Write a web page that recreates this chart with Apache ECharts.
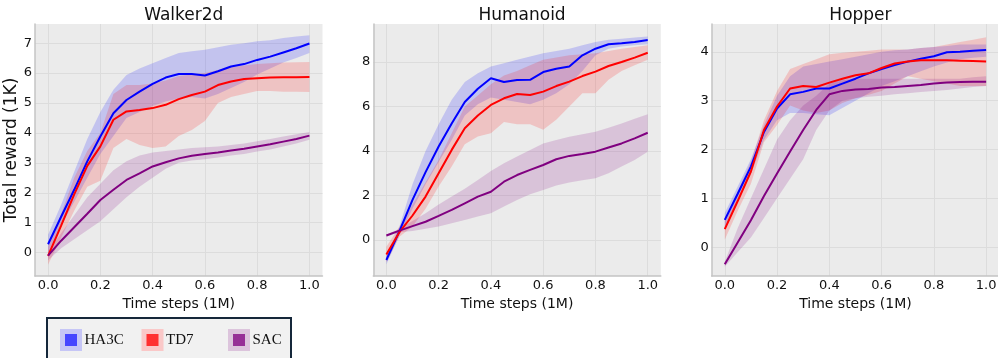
<!DOCTYPE html>
<html>
<head>
<meta charset="utf-8">
<script src="https://cdn.jsdelivr.net/npm/echarts@6/dist/echarts.min.js"></script>
<style>
html,body{margin:0;padding:0;background:#fff;}
#chart{width:998px;height:358px;}
</style>
</head>
<body>
<div id="chart"></div>
<script>
// ---------- data ----------
const steps = [0, 0.05, 0.1, 0.15, 0.2, 0.25, 0.3, 0.35, 0.4, 0.45, 0.5, 0.55, 0.6, 0.65, 0.7, 0.75, 0.8, 0.85, 0.9, 0.95, 1.0];
const xTicks = [0, 0.2, 0.4, 0.6, 0.8, 1.0];
const methods = ['HA3C', 'TD7', 'SAC'];
const envTitles = ['Walker2d', 'Humanoid', 'Hopper'];

// Walker2d
const walkerHA3C    = [0.28, 1.2, 2.1, 3.05, 3.88, 4.66, 5.1, 5.38, 5.64, 5.85, 5.97, 5.97, 5.92, 6.06, 6.22, 6.3, 6.44, 6.55, 6.69, 6.83, 6.99];
const walkerHA3CHi  = [0.6, 1.6, 2.7, 3.8, 4.7, 5.44, 5.94, 6.15, 6.33, 6.5, 6.67, 6.73, 6.78, 6.86, 6.95, 7.0, 7.06, 7.1, 7.17, 7.22, 7.26];
const walkerHA3CLo  = [0.0, 0.9, 1.7, 2.5, 3.3, 3.9, 4.5, 4.7, 4.9, 5.05, 5.15, 5.2, 5.15, 5.3, 5.5, 5.7, 5.95, 6.15, 6.35, 6.5, 6.67];
const walkerTD7     = [-0.11, 0.9, 1.95, 2.9, 3.55, 4.44, 4.72, 4.77, 4.83, 4.94, 5.13, 5.27, 5.38, 5.6, 5.72, 5.8, 5.83, 5.85, 5.86, 5.86, 5.87];
const walkerTD7Hi   = [0.2, 1.3, 2.5, 3.4, 4.0, 5.3, 5.6, 5.6, 5.65, 5.75, 5.9, 5.95, 6.0, 6.1, 6.2, 6.25, 6.3, 6.33, 6.35, 6.36, 6.37];
const walkerTD7Lo   = [-0.4, 0.5, 1.4, 2.2, 2.4, 3.5, 3.8, 3.6, 3.5, 3.55, 3.9, 4.1, 4.4, 5.0, 5.2, 5.3, 5.4, 5.4, 5.38, 5.38, 5.37];
const walkerSAC     = [-0.1, 0.4, 0.85, 1.3, 1.76, 2.1, 2.43, 2.65, 2.88, 3.02, 3.15, 3.24, 3.3, 3.35, 3.41, 3.47, 3.55, 3.62, 3.71, 3.8, 3.91];
const walkerSACHi   = [0.05, 0.65, 1.25, 1.85, 2.3, 2.75, 3.05, 3.25, 3.35, 3.4, 3.45, 3.5, 3.52, 3.55, 3.6, 3.65, 3.72, 3.8, 3.88, 3.96, 4.03];
const walkerSACLo   = [-0.25, 0.15, 0.45, 0.75, 1.05, 1.45, 1.85, 2.2, 2.5, 2.8, 3.0, 3.08, 3.12, 3.18, 3.25, 3.3, 3.38, 3.45, 3.55, 3.65, 3.77];

// Humanoid
const humanHA3C     = [-0.9, 0.4, 1.8, 3.05, 4.2, 5.24, 6.2, 6.8, 7.27, 7.1, 7.19, 7.2, 7.55, 7.7, 7.8, 8.3, 8.6, 8.8, 8.84, 8.9, 8.99];
const humanHA3CHi   = [-0.7, 0.6, 2.5, 4.0, 5.2, 6.3, 7.1, 7.5, 7.8, 7.95, 8.1, 8.25, 8.4, 8.5, 8.6, 8.75, 8.9, 9.0, 9.05, 9.1, 9.15];
const humanHA3CLo   = [-1.1, 0.2, 1.4, 2.5, 3.5, 4.5, 5.6, 6.1, 6.4, 6.3, 6.2, 6.1, 6.3, 6.6, 7.0, 7.6, 8.3, 8.6, 8.7, 8.75, 8.8];
const humanTD7      = [-0.65, 0.35, 1.1, 1.95, 3.0, 4.05, 5.02, 5.6, 6.07, 6.37, 6.56, 6.52, 6.67, 6.92, 7.12, 7.37, 7.57, 7.82, 8.0, 8.2, 8.42];
const humanTD7Hi    = [-0.3, 0.6, 1.6, 2.6, 3.6, 4.8, 6.0, 6.5, 7.0, 7.4, 7.6, 7.85, 8.1, 8.2, 8.3, 8.35, 8.4, 8.5, 8.6, 8.68, 8.75];
const humanTD7Lo    = [-1.0, 0.15, 0.6, 1.4, 2.4, 3.3, 4.3, 4.65, 4.8, 5.3, 5.2, 5.2, 4.95, 5.4, 6.0, 6.6, 6.6, 7.2, 7.6, 7.85, 8.1];
const humanSAC      = [0.2, 0.42, 0.62, 0.82, 1.08, 1.35, 1.65, 1.95, 2.17, 2.62, 2.92, 3.15, 3.37, 3.63, 3.78, 3.87, 3.97, 4.16, 4.34, 4.57, 4.82];
const humanSACHi    = [0.25, 0.5, 0.85, 1.2, 1.6, 1.95, 2.3, 2.7, 3.1, 3.45, 3.75, 4.05, 4.34, 4.5, 4.64, 4.75, 4.87, 5.05, 5.24, 5.45, 5.65];
const humanSACLo    = [0.15, 0.35, 0.4, 0.5, 0.6, 0.75, 0.9, 1.05, 1.2, 1.5, 1.8, 2.05, 2.25, 2.45, 2.58, 2.68, 2.77, 3.0, 3.3, 3.6, 3.97];

// Hopper
const hopperHA3C    = [0.56, 1.1, 1.65, 2.36, 2.84, 3.13, 3.18, 3.25, 3.25, 3.35, 3.45, 3.56, 3.65, 3.73, 3.8, 3.86, 3.91, 3.99, 4.0, 4.02, 4.04];
const hopperHA3CHi  = [0.7, 1.25, 1.8, 2.5, 3.1, 3.5, 3.7, 3.75, 3.8, 3.85, 3.9, 3.95, 4.0, 4.03, 4.05, 4.08, 4.1, 4.12, 4.15, 4.15, 4.15];
const hopperHA3CLo  = [0.4, 0.95, 1.5, 2.2, 2.6, 2.75, 2.75, 2.72, 2.7, 2.85, 3.0, 3.15, 3.3, 3.4, 3.5, 3.6, 3.7, 3.78, 3.85, 3.88, 3.9];
const hopperTD7     = [0.37, 0.95, 1.55, 2.4, 2.88, 3.25, 3.3, 3.28, 3.37, 3.45, 3.52, 3.56, 3.67, 3.76, 3.8, 3.83, 3.83, 3.83, 3.82, 3.81, 3.8];
const hopperTD7Hi   = [0.55, 1.15, 1.75, 2.6, 3.2, 3.65, 3.75, 3.85, 3.95, 3.98, 4.0, 4.02, 4.05, 4.05, 4.05, 4.08, 4.1, 4.15, 4.2, 4.25, 4.3];
const hopperTD7Lo   = [0.15, 0.75, 1.3, 2.15, 2.5, 2.9, 2.8, 2.75, 2.8, 2.95, 3.05, 3.12, 3.2, 3.35, 3.5, 3.45, 3.4, 3.35, 3.3, 3.3, 3.3];
const hopperSAC     = [-0.35, 0.1, 0.55, 1.05, 1.51, 1.96, 2.4, 2.81, 3.13, 3.2, 3.23, 3.24, 3.27, 3.28, 3.3, 3.32, 3.35, 3.37, 3.38, 3.39, 3.39];
const hopperSACHi   = [-0.3, 0.4, 1.0, 1.6, 2.2, 2.6, 2.9, 3.1, 3.35, 3.42, 3.45, 3.45, 3.45, 3.45, 3.45, 3.45, 3.45, 3.45, 3.45, 3.48, 3.5];
const hopperSACLo   = [-0.4, -0.1, 0.2, 0.6, 1.0, 1.4, 1.8, 2.4, 2.8, 3.0, 3.05, 3.08, 3.1, 3.13, 3.15, 3.18, 3.2, 3.22, 3.25, 3.28, 3.3];

const yTicksWalker = [0, 1, 2, 3, 4, 5, 6, 7];
const yTicksHuman  = [0, 2, 4, 6, 8];
const yTicksHopper = [0, 1, 2, 3, 4];

// ---------- styling / layout ----------
const FONT = 'DejaVu Sans';
const lineColors = ['#0000ff', '#ff0000', '#800080'];
const bandColors = ['rgba(0,0,255,0.17)', 'rgba(255,0,0,0.17)', 'rgba(128,0,128,0.17)'];

const panels = [
  {title: envTitles[0], mean: [walkerHA3C, walkerTD7, walkerSAC], hi: [walkerHA3CHi, walkerTD7Hi, walkerSACHi], lo: [walkerHA3CLo, walkerTD7Lo, walkerSACLo], yTicks: yTicksWalker, ymin: -0.78, ymax: 7.64, left: 35},
  {title: envTitles[1], mean: [humanHA3C, humanTD7, humanSAC], hi: [humanHA3CHi, humanTD7Hi, humanSACHi], lo: [humanHA3CLo, humanTD7Lo, humanSACLo], yTicks: yTicksHuman, ymin: -1.62, ymax: 9.71, left: 373.3},
  {title: envTitles[2], mean: [hopperHA3C, hopperTD7, hopperSAC], hi: [hopperHA3CHi, hopperTD7Hi, hopperSACHi], lo: [hopperHA3CLo, hopperTD7Lo, hopperSACLo], yTicks: yTicksHopper, ymin: -0.59, ymax: 4.57, left: 711.7}
];
const PLOT_TOP = 24, PLOT_H = 252, PLOT_W = 287.5;

const grids = [], xAxes = [], yAxes = [], series = [], titles = [];

panels.forEach((p, gi) => {
  grids.push({left: p.left, top: PLOT_TOP, width: PLOT_W, height: PLOT_H, show: true,
    backgroundColor: '#ebebeb', borderWidth: 0, containLabel: false, outerBoundsMode: 'none'});
  titles.push({text: p.title, left: p.left + PLOT_W / 2, top: 2, textAlign: 'center',
    textStyle: {fontFamily: FONT, fontSize: 17, fontWeight: 'normal', color: '#111'}});
  xAxes.push({type: 'value', gridIndex: gi, min: -0.05, max: 1.05,
    name: 'Time steps (1M)', nameLocation: 'middle', nameGap: 15,
    nameTextStyle: {fontFamily: FONT, fontSize: 14, color: '#111'},
    axisLine: {show: true, onZero: false, lineStyle: {color: '#c4c4c4', width: 1.5}},
    axisTick: {show: false, customValues: xTicks},
    axisLabel: {customValues: xTicks, formatter: v => v.toFixed(1), fontFamily: FONT, fontSize: 13, color: '#111', margin: 3},
    splitLine: {show: true, lineStyle: {color: '#dcdcdc', width: 1}}
  });
  yAxes.push({type: 'value', gridIndex: gi, min: p.ymin, max: p.ymax,
    name: gi === 0 ? 'Total reward (1K)' : '', nameLocation: 'middle', nameGap: 10,
    nameTextStyle: {fontFamily: FONT, fontSize: 17, color: '#111'},
    axisLine: {show: true, onZero: false, lineStyle: {color: '#c4c4c4', width: 1.5}},
    axisTick: {show: false, customValues: p.yTicks},
    axisLabel: {customValues: p.yTicks, fontFamily: FONT, fontSize: 13, color: '#111', margin: 3},
    splitLine: {show: true, lineStyle: {color: '#dcdcdc', width: 1}}
  });
  // bands
  methods.forEach((m, mi) => {
    const lo = p.lo[mi], hi = p.hi[mi];
    series.push({
      type: 'custom', name: m + ' band', xAxisIndex: gi, yAxisIndex: gi, silent: true, z: 2,
      data: steps.map((x, i) => [x, lo[i], hi[i]]),
      encode: {x: 0, y: [1, 2]},
      renderItem: function (params, api) {
        if (params.dataIndex !== 0) return null;
        const pts = [];
        for (let i = 0; i < steps.length; i++) pts.push(api.coord([steps[i], hi[i]]));
        for (let i = steps.length - 1; i >= 0; i--) pts.push(api.coord([steps[i], lo[i]]));
        return {type: 'polygon', shape: {points: pts}, style: {fill: bandColors[mi]}};
      }
    });
  });
  // mean lines
  methods.forEach((m, mi) => {
    series.push({
      type: 'line', name: m, xAxisIndex: gi, yAxisIndex: gi, z: 3 + mi,
      symbol: 'none', showSymbol: false, silent: true,
      lineStyle: {color: lineColors[mi], width: 2},
      itemStyle: {color: lineColors[mi]},
      data: steps.map((x, i) => [x, p.mean[mi][i]])
    });
  });
});

const legendInner = ['#4646ff', '#ff3030', '#963096'];
const legendHalo  = ['#c6c6f6', '#fac8c8', '#dcc4dc'];
const legendLeft  = [60, 141.5, 228];
const legends = methods.map((m, mi) => ({
  data: [{name: m, icon: 'rect', itemStyle: {color: legendInner[mi], borderColor: legendHalo[mi], borderWidth: 5}}],
  left: legendLeft[mi], top: 329, padding: 0, itemWidth: 17, itemHeight: 17, itemGap: 0, itemTextGap: 7,
  selectedMode: false, orient: 'horizontal',
  textStyle: {fontFamily: 'Liberation Serif', fontSize: 15, color: '#111'}
}));

const chart = echarts.init(document.getElementById('chart'), null, {renderer: 'canvas'});
chart.setOption({
  animation: false,
  backgroundColor: '#ffffff',
  textStyle: {fontFamily: FONT},
  title: titles,
  grid: grids,
  xAxis: xAxes,
  yAxis: yAxes,
  legend: legends,
  graphic: [{type: 'rect', z: -10, silent: true,
    shape: {x: 47, y: 318, width: 244, height: 60},
    style: {fill: '#f1f1f1', stroke: '#15273a', lineWidth: 2}}],
  series: series
});
</script>
</body>
</html>
